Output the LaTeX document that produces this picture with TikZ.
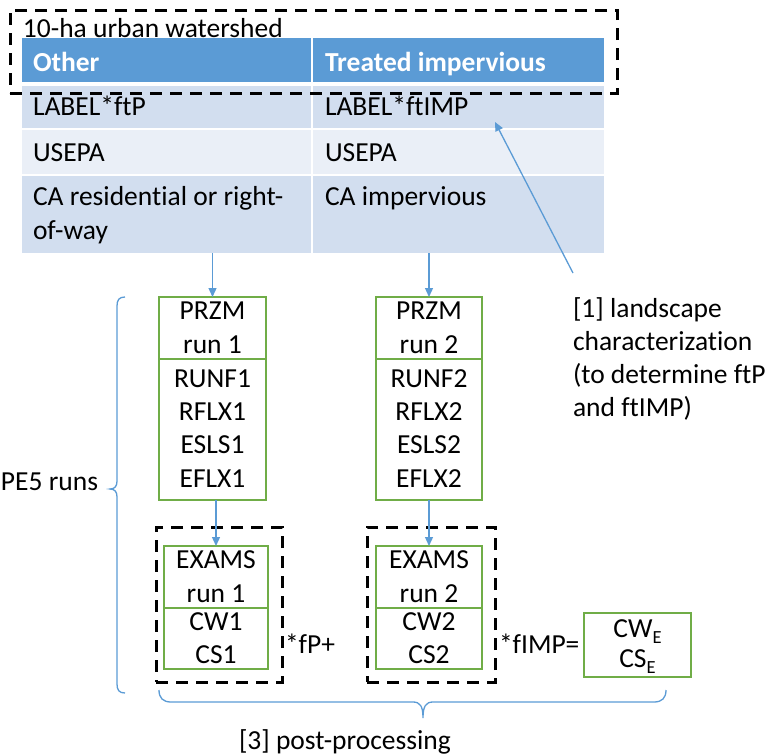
\documentclass[tikz,border=0pt]{standalone}
\usepackage{fontspec}
\setmainfont{Carlito}[Ligatures=NoCommon]
\usetikzlibrary{arrows.meta}
\definecolor{hdrblue}{RGB}{91,155,213}
\definecolor{rowdark}{RGB}{210,222,239}
\definecolor{rowlight}{RGB}{234,239,247}
\definecolor{boxgreen}{RGB}{112,173,71}
\definecolor{lineblue}{RGB}{91,155,213}
\newcommand{\bigf}{\fontsize{27.5}{33}\selectfont}
\newcommand{\subE}{\raisebox{-6pt}{\fontsize{18.5}{18.5}\selectfont E}}
\begin{document}
\begin{tikzpicture}[x=1pt,y=-1pt,
  cell/.style={inner sep=0pt, outer sep=0pt, anchor=north west},
  txt/.style={inner sep=0pt, outer sep=0pt, anchor=base west, font=\bigf},
  ctxt/.style={inner sep=0pt, outer sep=0pt, anchor=base, font=\bigf},
  gbox/.style={draw=boxgreen, line width=1.5pt, inner sep=0pt, outer sep=0pt, anchor=north west},
  dbox/.style={draw=black, line width=3pt, dash pattern=on 12pt off 8pt, inner sep=0pt, outer sep=0pt, anchor=north west},
  flow/.style={draw=lineblue, line width=1.3pt, -{Triangle[length=9pt,width=8pt]}},
  bracepath/.style={draw=lineblue, line width=1.3pt}]
\useasboundingbox (0,0) rectangle (769,755);

% table
\node[cell, fill=hdrblue, minimum width=289pt, minimum height=44pt] (hL) at (22,38) {};
\node[cell, fill=hdrblue, minimum width=291pt, minimum height=44pt] (hR) at (313,38) {};
\node[cell, fill=rowdark, minimum width=289pt, minimum height=42pt] (r1L) at (22,86) {};
\node[cell, fill=rowdark, minimum width=291pt, minimum height=42pt] (r1R) at (313,86) {};
\node[cell, fill=rowlight, minimum width=289pt, minimum height=44pt] (r2L) at (22,130) {};
\node[cell, fill=rowlight, minimum width=291pt, minimum height=44pt] (r2R) at (313,130) {};
\node[cell, fill=rowdark, minimum width=289pt, minimum height=77pt] (r3L) at (22,176) {};
\node[cell, fill=rowdark, minimum width=291pt, minimum height=77pt] (r3R) at (313,176) {};

\node[txt] (title) at (23,37) {10-ha urban watershed};
\node[txt, text=white, font=\bigf\bfseries] (tOther) at (33,71) {Other};
\node[txt, text=white, font=\bigf\bfseries] (tTreated) at (325,71) {Treated impervious};
\node[txt] (t1L) at (33,115) {LABEL*ftP};
\node[txt] (t1R) at (325,115) {LABEL*ftIMP};
\node[txt] (t2L) at (33,161) {USEPA};
\node[txt] (t2R) at (325,161) {USEPA};
\node[txt] (t3La) at (33,205) {CA residential or right-};
\node[txt] (t3Lb) at (33,239) {of-way};
\node[txt] (t3R) at (325,205) {CA impervious};

\node[dbox, minimum width=607pt, minimum height=83pt] (wshed) at (10,10) {};

% PRZM boxes
\node[gbox, minimum width=107pt, minimum height=62pt] (p1top) at (159,297) {};
\node[gbox, minimum width=107pt, minimum height=141pt] (p1bot) at (159,359) {};
\node[gbox, minimum width=106pt, minimum height=62pt] (p2top) at (376,297) {};
\node[gbox, minimum width=106pt, minimum height=141pt] (p2bot) at (376,359) {};
\foreach \cx/\n in {212.5/1, 429/2}{
  \node[ctxt] (pa\n) at (\cx,319) {PRZM};
  \node[ctxt] (pb\n) at (\cx,353) {run \n};
  \node[ctxt] (pc\n) at (\cx,387) {RUNF\n};
  \node[ctxt] (pd\n) at (\cx,420) {RFLX\n};
  \node[ctxt] (pe\n) at (\cx,453) {ESLS\n};
  \node[ctxt] (pf\n) at (\cx,487) {EFLX\n};
}

% EXAMS boxes
\node[dbox, minimum width=126pt, minimum height=155pt] (d1) at (156,527) {};
\node[dbox, minimum width=128pt, minimum height=155pt] (d2) at (367,527) {};
\node[gbox, minimum width=104pt, minimum height=62pt] (e1top) at (164,546) {};
\node[gbox, minimum width=104pt, minimum height=61pt] (e1bot) at (164,608) {};
\node[gbox, minimum width=106pt, minimum height=62pt] (e2top) at (376,546) {};
\node[gbox, minimum width=106pt, minimum height=61pt] (e2bot) at (376,608) {};
\foreach \cx/\n in {216/1, 429/2}{
  \node[ctxt] (ea\n) at (\cx,568) {EXAMS};
  \node[ctxt] (eb\n) at (\cx,602) {run \n};
  \node[ctxt] (ec\n) at (\cx,630) {CW\n};
  \node[ctxt] (ed\n) at (\cx,663) {CS\n};
}
\node[txt] (fp) at (285,653) {*fP+};
\node[txt] (fimp) at (499,653) {*fIMP=};
\node[gbox, minimum width=107pt, minimum height=64pt] (ce) at (584,613) {};
\node[ctxt] (cwe) at (637.5,637) {CW\subE};
\node[ctxt] (cse) at (637.5,667) {CS\subE};

% flow arrows
\draw[flow] (p1top.north |- r3L.south) -- (p1top.north);
\draw[flow] (p2top.north |- r3R.south) -- (p2top.north);
\draw[flow] (e1top.north |- p1bot.south) -- (e1top.north);
\draw[flow] (e2top.north |- p2bot.south) -- (e2top.north);

% landscape annotation
\node[txt] (l1) at (573,317) {[1] landscape};
\node[txt] (l2) at (573,350) {characterization};
\node[txt] (l3) at (573,383) {(to determine ftP};
\node[txt] (l4) at (573,416) {and ftIMP)};
\coordinate (lstart) at (573,273);
\coordinate (ltip) at (495,122);
\draw[flow] (lstart) -- (ltip);

% left brace
\node[txt] (pe5) at (1,490) {PE5 runs};
\draw[bracepath] (125,297) .. controls (119,297) and (117,300) .. (117,306) -- (117,481)
  .. controls (117,486) and (115,489) .. (110,489)
  .. controls (115,489) and (117,492) .. (117,497) -- (117,684)
  .. controls (117,690) and (119,693) .. (125,693);

% bottom brace
\draw[bracepath] (159,690) .. controls (159,698) and (163,702) .. (171,702) -- (413,702)
  .. controls (420,702) and (423,706) .. (423,718)
  .. controls (423,706) and (426,702) .. (433,702) -- (654,702)
  .. controls (662,702) and (666,698) .. (666,690);
\node[txt] (post) at (239,749) {[3] post-processing};
\end{tikzpicture}
\end{document}
